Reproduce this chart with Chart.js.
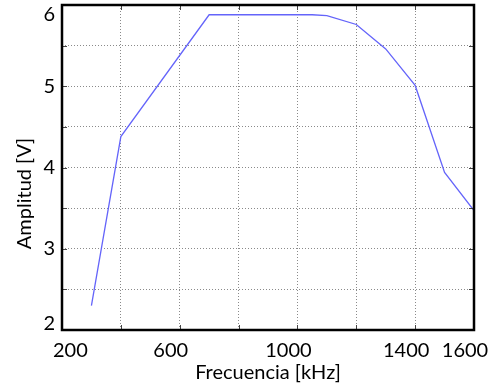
<!DOCTYPE html>
<html>
<head>
<meta charset="utf-8">
<script src="https://cdn.jsdelivr.net/npm/chart.js@4"></script>
<style>
  html, body { margin: 0; padding: 0; background: #fff; }
  #wrap { width: 491px; height: 385px; }
</style>
</head>
<body>
<div id="wrap"><canvas id="c" width="491" height="385"></canvas></div>
<script>
// Data
const frequencies = [300, 400, 700, 1050, 1100, 1200, 1300, 1400, 1500, 1600];
const amplitudes  = [2.30, 4.38, 5.88, 5.88, 5.87, 5.76, 5.46, 5.01, 3.94, 3.47];
const xTickLabels = [200, 600, 1000, 1400, 1600];
const yTickLabels = [2, 3, 4, 5, 6];
const xTitle = 'Frecuencia [kHz]';
const yTitle = 'Amplitud [V]';

const FONT = 'Lato';

// Keep the end labels inside the frame, as in the reference
const labelPlugin = {
  id: 'labelTweak',
  beforeDraw(chart) {
    const yItems = chart.scales.y.getLabelItems();
    yItems.forEach(it => {
      if (it.label === '6') it.options.textBaseline = 'top';
      if (it.label === '2') it.options.textBaseline = 'alphabetic';
    });
    const xItems = chart.scales.x.getLabelItems();
    xItems.forEach(it => {
      if (it.label === '200') it.options.textAlign = 'left';
    });
  }
};

const framePlugin = {
  id: 'frame',
  afterDraw(chart) {
    const { ctx, chartArea: a, scales } = chart;
    ctx.save();
    // inward ticks
    ctx.strokeStyle = '#444';
    ctx.lineWidth = 1;
    ctx.beginPath();
    scales.x.ticks.forEach(t => {
      const px = Math.round(scales.x.getPixelForValue(t.value)) + 0.5;
      ctx.moveTo(px, a.bottom); ctx.lineTo(px, a.bottom - 5);
      ctx.moveTo(px, a.top); ctx.lineTo(px, a.top + 5);
    });
    scales.y.ticks.forEach(t => {
      const py = Math.round(scales.y.getPixelForValue(t.value)) + 0.5;
      ctx.moveTo(a.left, py); ctx.lineTo(a.left + 5, py);
      ctx.moveTo(a.right, py); ctx.lineTo(a.right - 5, py);
    });
    ctx.stroke();
    // frame
    ctx.strokeStyle = '#000';
    ctx.lineWidth = 2.5;
    ctx.strokeRect(a.left, a.top, a.right - a.left, a.bottom - a.top);
    // y title, centred on the canvas height
    ctx.fillStyle = '#000';
    ctx.font = '20px ' + FONT;
    ctx.textAlign = 'center';
    ctx.textBaseline = 'middle';
    ctx.translate(25, chart.height / 2 + 1);
    ctx.rotate(-Math.PI / 2);
    ctx.fillText(yTitle, 0, 0);
    ctx.restore();
  }
};

new Chart(document.getElementById('c'), {
  type: 'line',
  data: {
    datasets: [{
      data: frequencies.map((f, i) => ({ x: f, y: amplitudes[i] })),
      borderColor: 'rgb(100,100,250)',
      borderWidth: 1.3,
      pointRadius: 0,
      tension: 0,
      fill: false
    }]
  },
  options: {
    responsive: false,
    animation: false,
    devicePixelRatio: 1,
    layout: { padding: { top: 5, right: 17, left: 0, bottom: 0 } },
    plugins: { legend: { display: false }, tooltip: { enabled: false } },
    scales: {
      x: {
        type: 'linear',
        min: 200, max: 1600,
        ticks: {
          stepSize: 200,
          autoSkip: false,
          maxRotation: 0,
          padding: 9,
          labelOffset: -9,
          color: '#000',
          font: { family: FONT, size: 20 },
          callback: v => xTickLabels.includes(v) ? String(v) : ''
        },
        grid: { color: '#8a8a8a', lineWidth: 1, drawTicks: false },
        border: { display: false, dash: [1, 2] },
        title: {
          display: true, text: xTitle, color: '#000',
          font: { family: FONT, size: 20 },
          padding: { top: 0, bottom: 0 }
        },
        afterFit(s) { s.height = 55; s.paddingLeft = 0; s.paddingRight = 0; }
      },
      y: {
        min: 2, max: 6,
        ticks: {
          stepSize: 0.5,
          autoSkip: false,
          padding: 7,
          color: '#000',
          font: { family: FONT, size: 20 },
          callback: v => yTickLabels.includes(v) ? String(v) : ''
        },
        grid: { color: '#8a8a8a', lineWidth: 1, drawTicks: false },
        border: { display: false, dash: [1, 2] },
        afterFit(s) { s.width = 62; s.paddingTop = 0; s.paddingBottom = 0; }
      }
    }
  },
  plugins: [labelPlugin, framePlugin]
});
</script>
</body>
</html>
